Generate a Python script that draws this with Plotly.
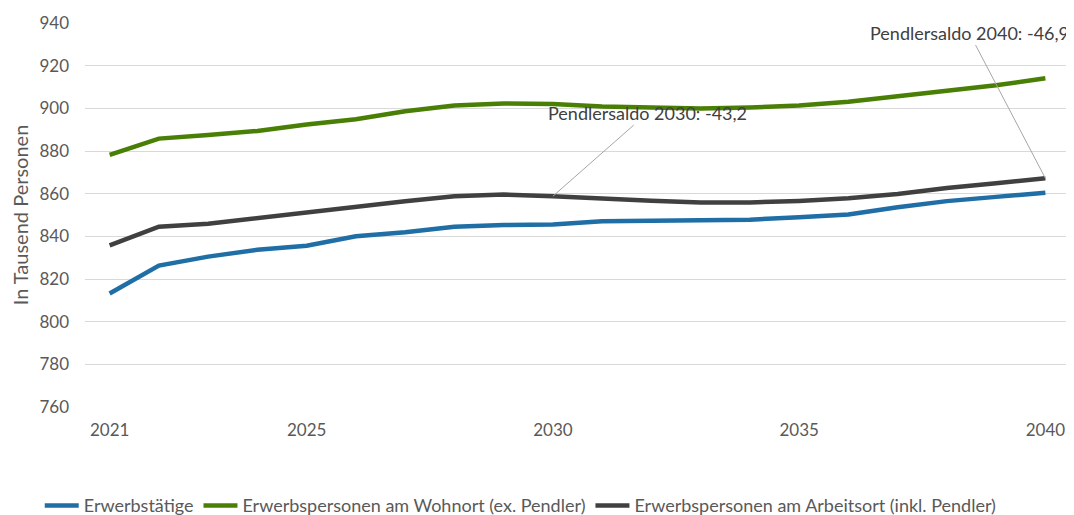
import plotly.graph_objects as go

years = list(range(2021, 2041))
erwerbstaetige = [813.2, 826.3, 830.5, 833.7, 835.6, 840.0, 841.9, 844.5, 845.3, 845.5,
                  847.1, 847.2, 847.4, 847.8, 849.0, 850.2, 853.6, 856.5, 858.5, 860.4]
wohnort = [878.2, 885.8, 887.5, 889.4, 892.4, 894.9, 898.6, 901.3, 902.3, 902.0,
           900.9, 900.3, 899.9, 900.4, 901.3, 903.1, 905.7, 908.6, 910.8, 914.1]
arbeitsort = [835.8, 844.5, 845.9, 848.6, 851.0, 853.5, 856.4, 858.8, 859.6, 858.8,
              857.5, 856.7, 855.9, 855.9, 856.6, 857.8, 859.8, 862.7, 864.9, 867.2]

series_names = ["Erwerbstätige", "Erwerbspersonen am Wohnort (ex. Pendler)",
                "Erwerbspersonen am Arbeitsort (inkl. Pendler)"]
series_colors = ["#1F6EA6", "#4A7F05", "#404040"]

tick_years = [2021, 2025, 2030, 2035, 2040]
y_ticks = list(range(760, 941, 20))

ann_texts = ["Pendlersaldo 2030: -43,2", "Pendlersaldo 2040: -46,9"]
ann_years = [2030, 2040]
ann_text_x = [2031.93, 2038.45]
ann_text_y = [898.0, 935.5]

FONT = "Lato, 'Open Sans', sans-serif"

fig = go.Figure()
for name, vals, col in zip(series_names, [erwerbstaetige, wohnort, arbeitsort], series_colors):
    fig.add_trace(go.Scatter(x=years, y=vals, mode="lines", name=name,
                             line=dict(color=col, width=4.5), hoverinfo="skip"))

for txt, yr, tx, ty in zip(ann_texts, ann_years, ann_text_x, ann_text_y):
    fig.add_annotation(x=yr, y=arbeitsort[years.index(yr)], xref="x", yref="y",
                       ax=tx, ay=ty, axref="x", ayref="y", text=txt,
                       showarrow=True, arrowhead=0, arrowwidth=1, arrowcolor="#A6A6A6",
                       font=dict(family=FONT, size=18, color="#404040"), standoff=0)

fig.update_layout(
    width=1066, height=507,
    margin=dict(l=77, r=4, t=15, b=108),
    plot_bgcolor="white", paper_bgcolor="white",
    font=dict(family=FONT, size=17, color="#595959"),
    showlegend=True,
    legend=dict(orientation="h", xref="container", yref="container",
                x=0.481, xanchor="center", y=0.0183, yanchor="middle",
                font=dict(family=FONT, size=18, color="#595959"),
                itemwidth=34, tracegroupgap=0),
    xaxis=dict(range=[2020.5, 2040.5], tickvals=tick_years, ticktext=[str(t) for t in tick_years],
               showgrid=False, zeroline=False, showline=False, ticks="", automargin=False,
               ticklabelstandoff=11, tickfont=dict(size=17, color="#595959")),
    yaxis=dict(range=[760, 940], tickvals=y_ticks, showgrid=True, gridcolor="#D9D9D9",
               gridwidth=1, zeroline=False, showline=False, ticks="",
               ticklabelstandoff=15, automargin=False,
               title=dict(text="In Tausend Personen", standoff=8,
                          font=dict(size=20, color="#595959")),
               tickfont=dict(size=17, color="#595959")),
)

fig.write_html("out.html")
